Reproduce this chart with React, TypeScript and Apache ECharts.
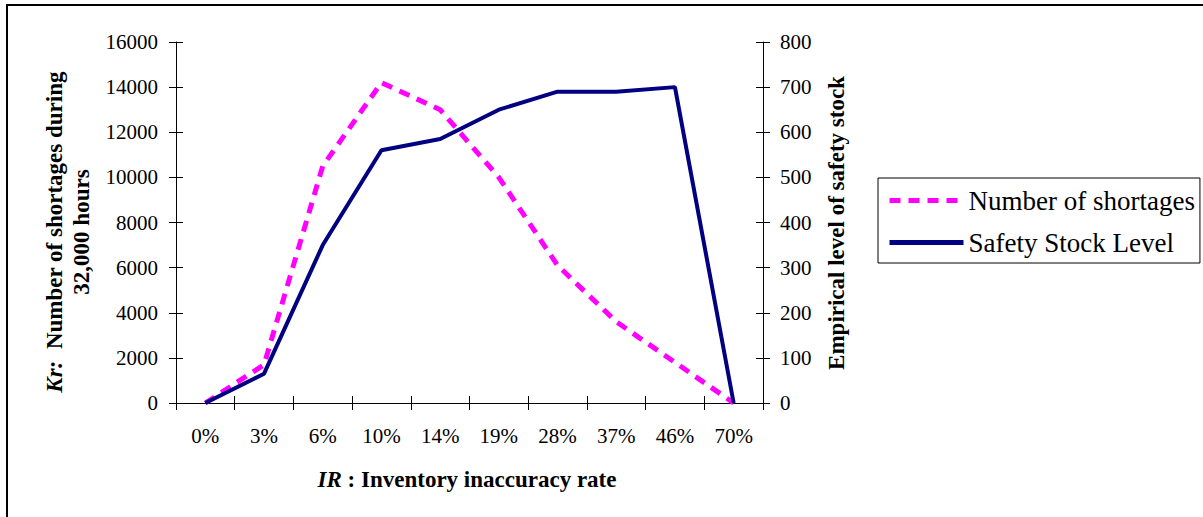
import React, { useEffect, useRef } from "react";
import * as echarts from "echarts";

const categories = ["0%", "3%", "6%", "10%", "14%", "19%", "28%", "37%", "46%", "70%"];
const shortages = [0, 1700, 10500, 14200, 13000, 10000, 6100, 3600, 1800, 0];
const safetyStock = [0, 65, 350, 560, 585, 650, 690, 690, 700, 0];
const seriesNames = ["Number of shortages", "Safety Stock Level"];
const leftScale = { min: 0, max: 16000, interval: 2000 };
const rightScale = { min: 0, max: 800, interval: 100 };
const leftTitleLine1 = ["Kr:", "  Number of shortages during"];
const leftTitleLine2 = "32,000 hours";
const rightTitle = "Empirical level of safety stock";
const xTitle = ["IR", " : Inventory inaccuracy rate"];

const FONT = "'Liberation Serif', 'Times New Roman', serif";

export default function App() {
  const ref = useRef<HTMLDivElement>(null);
  useEffect(() => {
    if (!ref.current) return;
    const chart = echarts.init(ref.current, null, { renderer: "svg" });
    const axisLine = { show: true, onZero: false, lineStyle: { color: "#000", width: 1 } };
    const label = { color: "#000", fontSize: 21, fontFamily: FONT, formatter: (v: any) => String(v) };
    const option: any = {
      animation: false,
      backgroundColor: "#fff",
      grid: { left: 176, right: 440, top: 42, bottom: 114, containLabel: false },
      xAxis: [
        {
          type: "category",
          data: categories,
          boundaryGap: true,
          position: "bottom",
          axisLine,
          axisTick: { show: true, inside: false, length: 7, alignWithLabel: false, lineStyle: { color: "#000" } },
          axisLabel: { color: "#000", fontSize: 21, fontFamily: FONT, margin: 22, interval: 0 },
          splitLine: { show: false },
        },
        {
          type: "category",
          data: categories,
          boundaryGap: true,
          position: "bottom",
          axisLine: { show: false },
          axisTick: { show: true, inside: true, length: 7, alignWithLabel: false, lineStyle: { color: "#000" } },
          axisLabel: { show: false },
          splitLine: { show: false },
        },
      ],
      yAxis: [
        {
          type: "value",
          position: "left",
          ...leftScale,
          axisLine,
          axisTick: { show: true, inside: false, length: 7, lineStyle: { color: "#000" } },
          axisLabel: { ...label, margin: 18 },
          splitLine: { show: false },
        },
        {
          type: "value",
          position: "right",
          ...rightScale,
          axisLine,
          axisTick: { show: true, inside: false, length: 7, lineStyle: { color: "#000" } },
          axisLabel: { ...label, margin: 17 },
          splitLine: { show: false },
        },
        {
          type: "value",
          position: "left",
          ...leftScale,
          axisLine: { show: false },
          axisTick: { show: true, inside: true, length: 7, lineStyle: { color: "#000" } },
          axisLabel: { show: false },
          splitLine: { show: false },
        },
        {
          type: "value",
          position: "right",
          ...rightScale,
          axisLine: { show: false },
          axisTick: { show: true, inside: true, length: 7, lineStyle: { color: "#000" } },
          axisLabel: { show: false },
          splitLine: { show: false },
        },
      ],
      legend: {
        orient: "vertical",
        left: 878,
        top: 178,
        padding: [9, 5, 7, 9],
        itemGap: 15,
        itemWidth: 74,
        itemHeight: 27,
        borderColor: "#000",
        borderWidth: 1,
        backgroundColor: "#fff",
        itemStyle: { color: "transparent", borderWidth: 0, opacity: 0 },
        lineStyle: { width: 5 },
        textStyle: { color: "#000", fontSize: 27, fontFamily: FONT, lineHeight: 27 },
        data: seriesNames,
      },
      series: [
        {
          name: seriesNames[0],
          type: "line",
          xAxisIndex: 0,
          yAxisIndex: 0,
          data: shortages,
          symbol: "none",
          showSymbol: false,
          lineStyle: { color: "#FF00FF", width: 5, type: [11, 8], cap: "butt" },
          itemStyle: { color: "#FF00FF" },
          z: 3,
        },
        {
          name: seriesNames[1],
          type: "line",
          xAxisIndex: 0,
          yAxisIndex: 1,
          data: safetyStock,
          symbol: "none",
          showSymbol: false,
          lineStyle: { color: "#000080", width: 4, type: "solid" },
          itemStyle: { color: "#000080" },
          z: 4,
        },
      ],
      graphic: [
        {
          type: "rect",
          shape: { x: 7, y: 5, width: 1400, height: 700 },
          style: { fill: "none", stroke: "#000", lineWidth: 2 },
          silent: true,
          z: 0,
        },
        {
          type: "text",
          x: 68,
          y: 232,
          rotation: Math.PI / 2,
          style: {
            text: `{bi|${leftTitleLine1[0]}}{b|${leftTitleLine1[1]}}\n{b|${leftTitleLine2}}`,
            rich: {
              bi: { font: `italic bold 23px ${FONT}`, fill: "#000", lineHeight: 27 },
              b: { font: `bold 23px ${FONT}`, fill: "#000", lineHeight: 27 },
            },
            align: "center",
            verticalAlign: "middle",
            textAlign: "center",
            textVerticalAlign: "middle",
            fill: "#000",
          },
        },
        {
          type: "text",
          x: 836,
          y: 223,
          rotation: Math.PI / 2,
          style: {
            text: rightTitle,
            font: `bold 23px ${FONT}`,
            fill: "#000",
            align: "center",
            verticalAlign: "middle",
            textAlign: "center",
            textVerticalAlign: "middle",
          },
        },
        {
          type: "text",
          x: 467,
          y: 479,
          style: {
            text: `{bi|${xTitle[0]}}{b|${xTitle[1]}}`,
            rich: {
              bi: { font: `italic bold 23px ${FONT}`, fill: "#000" },
              b: { font: `bold 23px ${FONT}`, fill: "#000" },
            },
            align: "center",
            verticalAlign: "middle",
            textAlign: "center",
            textVerticalAlign: "middle",
            fill: "#000",
          },
        },
      ],
    };
    chart.setOption(option);
    return () => chart.dispose();
  }, []);
  return (
    <div
      ref={ref}
      style={{ position: "fixed", left: 0, top: 0, width: 1203, height: 517, background: "#fff" }}
    />
  );
}
